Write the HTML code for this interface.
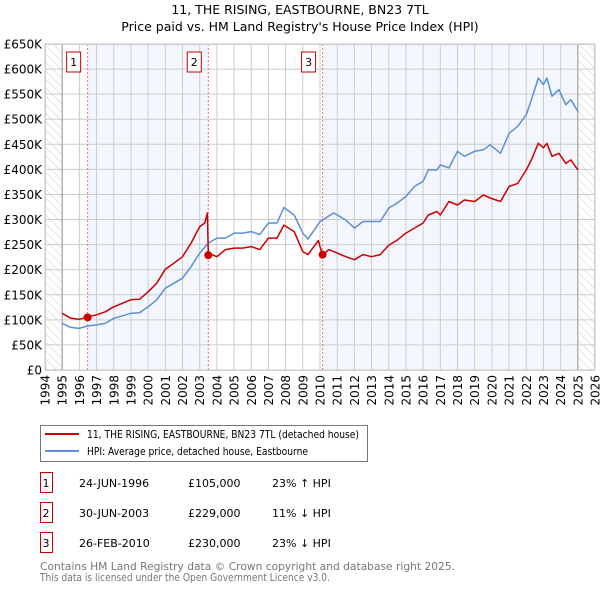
<!DOCTYPE html>
<html><head><meta charset="utf-8"><style>
body{margin:0;background:#fff;width:600px;height:590px;overflow:hidden;font-family:"DejaVu Sans","Liberation Sans",sans-serif;}
svg text{font-family:"DejaVu Sans","Liberation Sans",sans-serif;}
</style></head><body>
<svg id="c" width="600" height="590">
<defs><pattern id="hatch" width="6" height="6" patternUnits="userSpaceOnUse" patternTransform="rotate(-45)"><line x1="0" y1="0" x2="0" y2="6" stroke="#ccc" stroke-width="1"/></pattern></defs>
<text x="300" y="14" text-anchor="middle" font-size="12.5" fill="#000">11, THE RISING, EASTBOURNE, BN23 7TL</text>
<text x="300" y="31" text-anchor="middle" font-size="12.5" fill="#000">Price paid vs. HM Land Registry's House Price Index (HPI)</text>
<g id="plot"></g>
<g>
<rect x="40.5" y="425.5" width="327" height="36" fill="#fff" stroke="#777"/>
<line x1="45" y1="434" x2="79" y2="434" stroke="#cc0000" stroke-width="2"/>
<text x="87" y="438" font-size="10.5" textLength="272" lengthAdjust="spacingAndGlyphs">11, THE RISING, EASTBOURNE, BN23 7TL (detached house)</text>
<line x1="45" y1="451" x2="79" y2="451" stroke="#5b8fd4" stroke-width="2"/>
<text x="87" y="455" font-size="10.5" textLength="221" lengthAdjust="spacingAndGlyphs">HPI: Average price, detached house, Eastbourne</text>
</g>
<g id="table" font-size="11"></g>
<text x="40" y="570" font-size="11" fill="#777" textLength="415" lengthAdjust="spacingAndGlyphs">Contains HM Land Registry data © Crown copyright and database right 2025.</text>
<text x="40" y="581" font-size="11" fill="#777" textLength="290" lengthAdjust="spacingAndGlyphs">This data is licensed under the Open Government Licence v3.0.</text>
</svg>
<script>
const hpiYears=[1995,1995.5,1996,1996.5,1997,1997.5,1998,1998.5,1999,1999.5,2000,2000.5,2001,2001.5,2002,2002.5,2003,2003.5,2004,2004.5,2005,2005.5,2006,2006.5,2007,2007.5,2007.9,2008.5,2009,2009.3,2009.8,2010,2010.8,2011.5,2012,2012.5,2013,2013.5,2014,2014.5,2015,2015.5,2016,2016.3,2016.8,2017,2017.5,2018,2018.4,2019,2019.5,2019.9,2020.5,2021,2021.5,2022,2022.3,2022.7,2023,2023.2,2023.5,2023.9,2024.3,2024.6,2025];
const hpiValues=[93,85,83,88,90,93,103,108,113,114,126,140,163,173,183,206,233,253,263,263,273,273,276,270,293,293,324,309,273,261,286,296,313,299,283,296,296,296,323,333,346,366,376,399,399,409,403,436,426,436,439,449,432,472,486,509,539,582,569,582,546,559,529,539,516];
const propYears=[1995,1995.5,1996,1996.5,1997,1997.5,1998,1998.5,1999,1999.5,2000,2000.5,2001,2001.5,2002,2002.5,2003,2003.3,2003.45,2003.5,2004,2004.5,2005,2005.5,2006,2006.5,2007,2007.5,2007.9,2008.5,2009,2009.3,2009.9,2010.15,2010.5,2011,2011.5,2012,2012.5,2013,2013.5,2014,2014.5,2015,2015.5,2016,2016.3,2016.8,2017,2017.5,2018,2018.4,2019,2019.5,2019.9,2020.5,2021,2021.5,2022,2022.3,2022.7,2023,2023.2,2023.5,2023.9,2024.3,2024.6,2025];
const propValues=[113,103,101,106,110,116,126,133,140,141,156,173,201,213,226,253,286,293,313,233,226,240,243,243,246,240,263,263,289,276,236,230,258,228,240,233,226,220,230,226,230,249,259,273,283,293,309,316,309,336,329,339,336,349,343,336,366,372,399,419,452,443,452,426,432,412,419,399];
const saleLabels=["1","2","3"];
const saleYears=[1996.48,2003.5,2010.15];
const saleValues=[105,229,230];
const saleDates=["24-JUN-1996","30-JUN-2003","26-FEB-2010"];
const salePrices=["£105,000","£229,000","£230,000"];
const saleDiffs=["23% ↑ HPI","11% ↓ HPI","23% ↓ HPI"];
const yTicks=[0,50,100,150,200,250,300,350,400,450,500,550,600,650];
const xTicks=[1994,1995,1996,1997,1998,1999,2000,2001,2002,2003,2004,2005,2006,2007,2008,2009,2010,2011,2012,2013,2014,2015,2016,2017,2018,2019,2020,2021,2022,2023,2024,2025,2026];

const L=45,R=595,T=44,B=370,X0=1994,X1=2026,YMAX=650;
const xs=v=>L+(v-X0)/(X1-X0)*(R-L);
const ys=v=>B-v/YMAX*(B-T);
const NS="http://www.w3.org/2000/svg";
const plot=document.getElementById('plot');
function mk(tag,attrs,parent){const e=document.createElementNS(NS,tag);for(const k in attrs)e.setAttribute(k,attrs[k]);(parent||plot).appendChild(e);return e;}

mk('rect',{x:L,y:T,width:R-L,height:B-T,fill:'#fff'});
let r=mk('rect',{x:xs(saleYears[0]),y:T,width:xs(saleYears[1])-xs(saleYears[0]),height:B-T,fill:'#eef3fc',opacity:0.7});

r=mk('rect',{x:xs(saleYears[2]),y:T,width:xs(2025)-xs(saleYears[2]),height:B-T,fill:'#eef3fc',opacity:0.7});

mk('rect',{x:L,y:T,width:xs(1995)-L,height:B-T,fill:'url(#hatch)'});
mk('rect',{x:xs(2025),y:T,width:R-xs(2025),height:B-T,fill:'url(#hatch)'});

yTicks.forEach(v=>{
  mk('line',{x1:L,x2:R,y1:ys(v),y2:ys(v),stroke:'#ccc','stroke-width':1});
  const t=mk('text',{x:L-3,y:ys(v)+4.5,'text-anchor':'end','font-size':12});
  t.textContent=v===0?'£0':'£'+v+'K';
  
});
xTicks.forEach(v=>{
  mk('line',{x1:xs(v),x2:xs(v),y1:T,y2:B,stroke:'#ccc','stroke-width':1});
  const t=mk('text',{x:0,y:0,'font-size':12,'text-anchor':'end',transform:`translate(${xs(v)+4.5},${B+5}) rotate(-90)`});
  t.textContent=v;
  
});
mk('line',{x1:xs(1995),x2:xs(1995),y1:T,y2:B,stroke:'#999'});
mk('line',{x1:xs(2025),x2:xs(2025),y1:T,y2:B,stroke:'#999'});

saleYears.forEach((y,i)=>{
  const l=mk('line',{x1:xs(y),x2:xs(y),y1:T,y2:B,stroke:'#f07070','stroke-dasharray':'2,2'});
  
});
function path(xa,va,color,name){
  const d=xa.map((x,i)=>(i?'L':'M')+xs(x).toFixed(1)+','+ys(va[i]).toFixed(1)).join('');
  const p=mk('path',{d:d,fill:'none',stroke:color,'stroke-width':1.5,'stroke-linejoin':'round'});
  
}
path(hpiYears,hpiValues,'#5b8fd4','hpi-line');
path(propYears,propValues,'#cc0000','property-line');
saleYears.forEach((y,i)=>{
  const c=mk('circle',{cx:xs(y),cy:ys(saleValues[i]),r:4,fill:'#cc0000'});
  
  const b=mk('rect',{x:xs(y)-21,y:T+8,width:14,height:20,fill:'#fff',stroke:'#cc0000'});
  
  const t=mk('text',{x:xs(y)-14,y:T+22,'text-anchor':'middle','font-size':11});
  t.textContent=saleLabels[i];
  
});
mk('rect',{x:L+0.5,y:T+0.5,width:R-L-1,height:B-T,fill:'none',stroke:'#ccc'});

const tbl=document.getElementById('table');
saleLabels.forEach((s,i)=>{
  const cy=483+i*30;
  const b=mk('rect',{x:40.5,y:cy-10.5,width:12,height:20,fill:'#fff',stroke:'#cc0000'},tbl);
  
  const vals=[[46,s,'middle'],[79,saleDates[i],'start'],[188,salePrices[i],'start'],[272,saleDiffs[i],'start']];
  vals.forEach(v=>{const t=mk('text',{x:v[0],y:cy+4,'text-anchor':v[2]},tbl);t.textContent=v[1];
    });
});
</script>
</body></html>
